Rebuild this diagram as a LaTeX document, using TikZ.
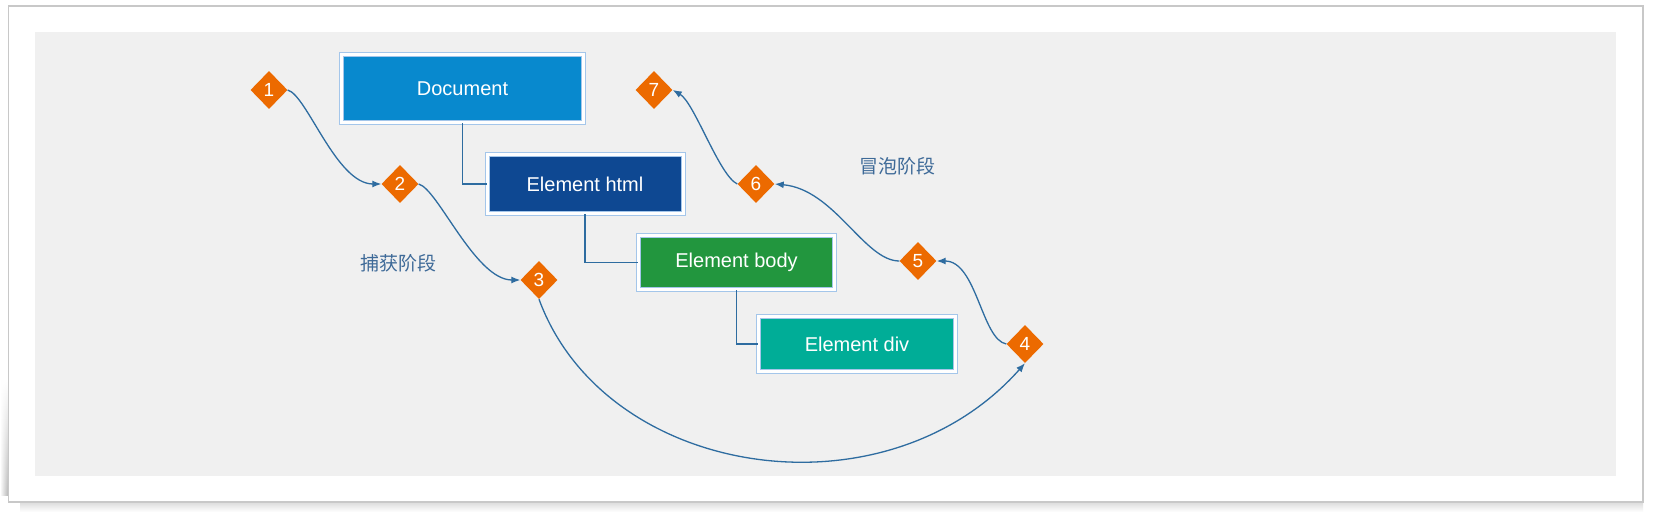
\documentclass[tikz,border=0pt]{standalone}
\usepackage{fontspec}
\setsansfont{Liberation Sans}
\newfontfamily\cjkfont{Noto Sans CJK SC}
\usetikzlibrary{shapes.geometric,arrows.meta,fadings,calc}
\definecolor{docblue}{RGB}{8,137,206}
\definecolor{htmlblue}{RGB}{14,72,146}
\definecolor{bodygreen}{RGB}{34,150,62}
\definecolor{divteal}{RGB}{0,173,151}
\definecolor{borderblue}{RGB}{164,198,234}
\definecolor{markorange}{RGB}{236,106,0}
\definecolor{flowblue}{RGB}{46,108,160}
\definecolor{phaseblue}{RGB}{62,106,152}
\definecolor{bggray}{RGB}{240,240,240}
\definecolor{framegray}{RGB}{200,200,200}
\begin{document}
\begin{tikzpicture}[x=1pt,y=1pt,
  treebox/.style={draw=borderblue, double=white, double distance=3pt, line width=1pt,
    text=white, font=\sffamily\fontsize{20}{24}\selectfont, inner sep=0pt},
  marker/.style={diamond, fill=markorange, text=white,
    font=\sffamily\fontsize{19}{22}\selectfont,
    minimum width=37pt, minimum height=38pt, inner sep=0pt},
  flow/.style={draw=flowblue, line width=1.3pt, -{Latex[length=9pt,width=7pt]}},
  tree/.style={draw=flowblue, line width=1.5pt},
  phase/.style={text=phaseblue, font=\cjkfont\fontsize{19}{22}\selectfont}
]
\useasboundingbox (0,0) rectangle (1659,-516);
\fill[white] (0,0) rectangle (1659,-516);
% shadows
\shade[left color=white, right color=black!30, path fading=north] (0,-380) rectangle (8.5,-495);
\shade[top color=black!14, bottom color=white] (20,-502) rectangle (1643,-512);
% frame and background
\draw[framegray, line width=1.5pt, fill=white] (8.5,-6) rectangle (1643,-502);
\fill[bggray] (35,-32) rectangle (1616,-476);

% tree boxes
\node[treebox, fill=docblue, minimum width=242pt, minimum height=68pt] (doc) at (462.5,-89) {Document};
\node[treebox, fill=htmlblue, minimum width=196pt, minimum height=59pt] (html) at (585,-184) {Element html};
\node[treebox, fill=bodygreen, minimum width=196pt, minimum height=54pt] (body) at (736.5,-262.5) {Element body};
\node[treebox, fill=divteal, minimum width=197pt, minimum height=55pt] (div) at (857,-344) {Element div};

\draw[tree] (doc.south) |- (html.west);
\draw[tree] (html.south) |- (body.west);
\draw[tree] (body.south) |- (div.west);

% markers
\node[marker] (d1) at (269,-90) {1};
\node[marker] (d2) at (400,-184) {2};
\node[marker] (d3) at (539,-280) {3};
\node[marker] (d4) at (1025,-344) {4};
\node[marker] (d5) at (918,-261) {5};
\node[marker] (d6) at (756,-184) {6};
\node[marker] (d7) at (654,-90) {7};

% phase labels
\node[phase] (cap) at (398.5,-263) {捕获阶段};
\node[phase] (bub) at (897.5,-166) {冒泡阶段};

% flow
\draw[flow] (d1.east) to[out=-15,in=180,out distance=20pt,in distance=45pt] (d2.west);
\draw[flow] (d2.east) to[out=-15,in=180,out distance=20pt,in distance=45pt] (d3.west);
\draw[flow] (d3.south) .. controls ($(d3.south)+(66,-180)$) and ($(d4.south)+(-140,-158)$) .. (d4.south);
\draw[flow] (d4.west) to[out=170,in=0,out distance=25pt,in distance=40pt] (d5.east);
\draw[flow] (d5.west) to[out=180,in=-5,out distance=35pt,in distance=60pt] (d6.east);
\draw[flow] (d6.west) to[out=155,in=-30,out distance=20pt,in distance=25pt] (d7.east);
\end{tikzpicture}
\end{document}
